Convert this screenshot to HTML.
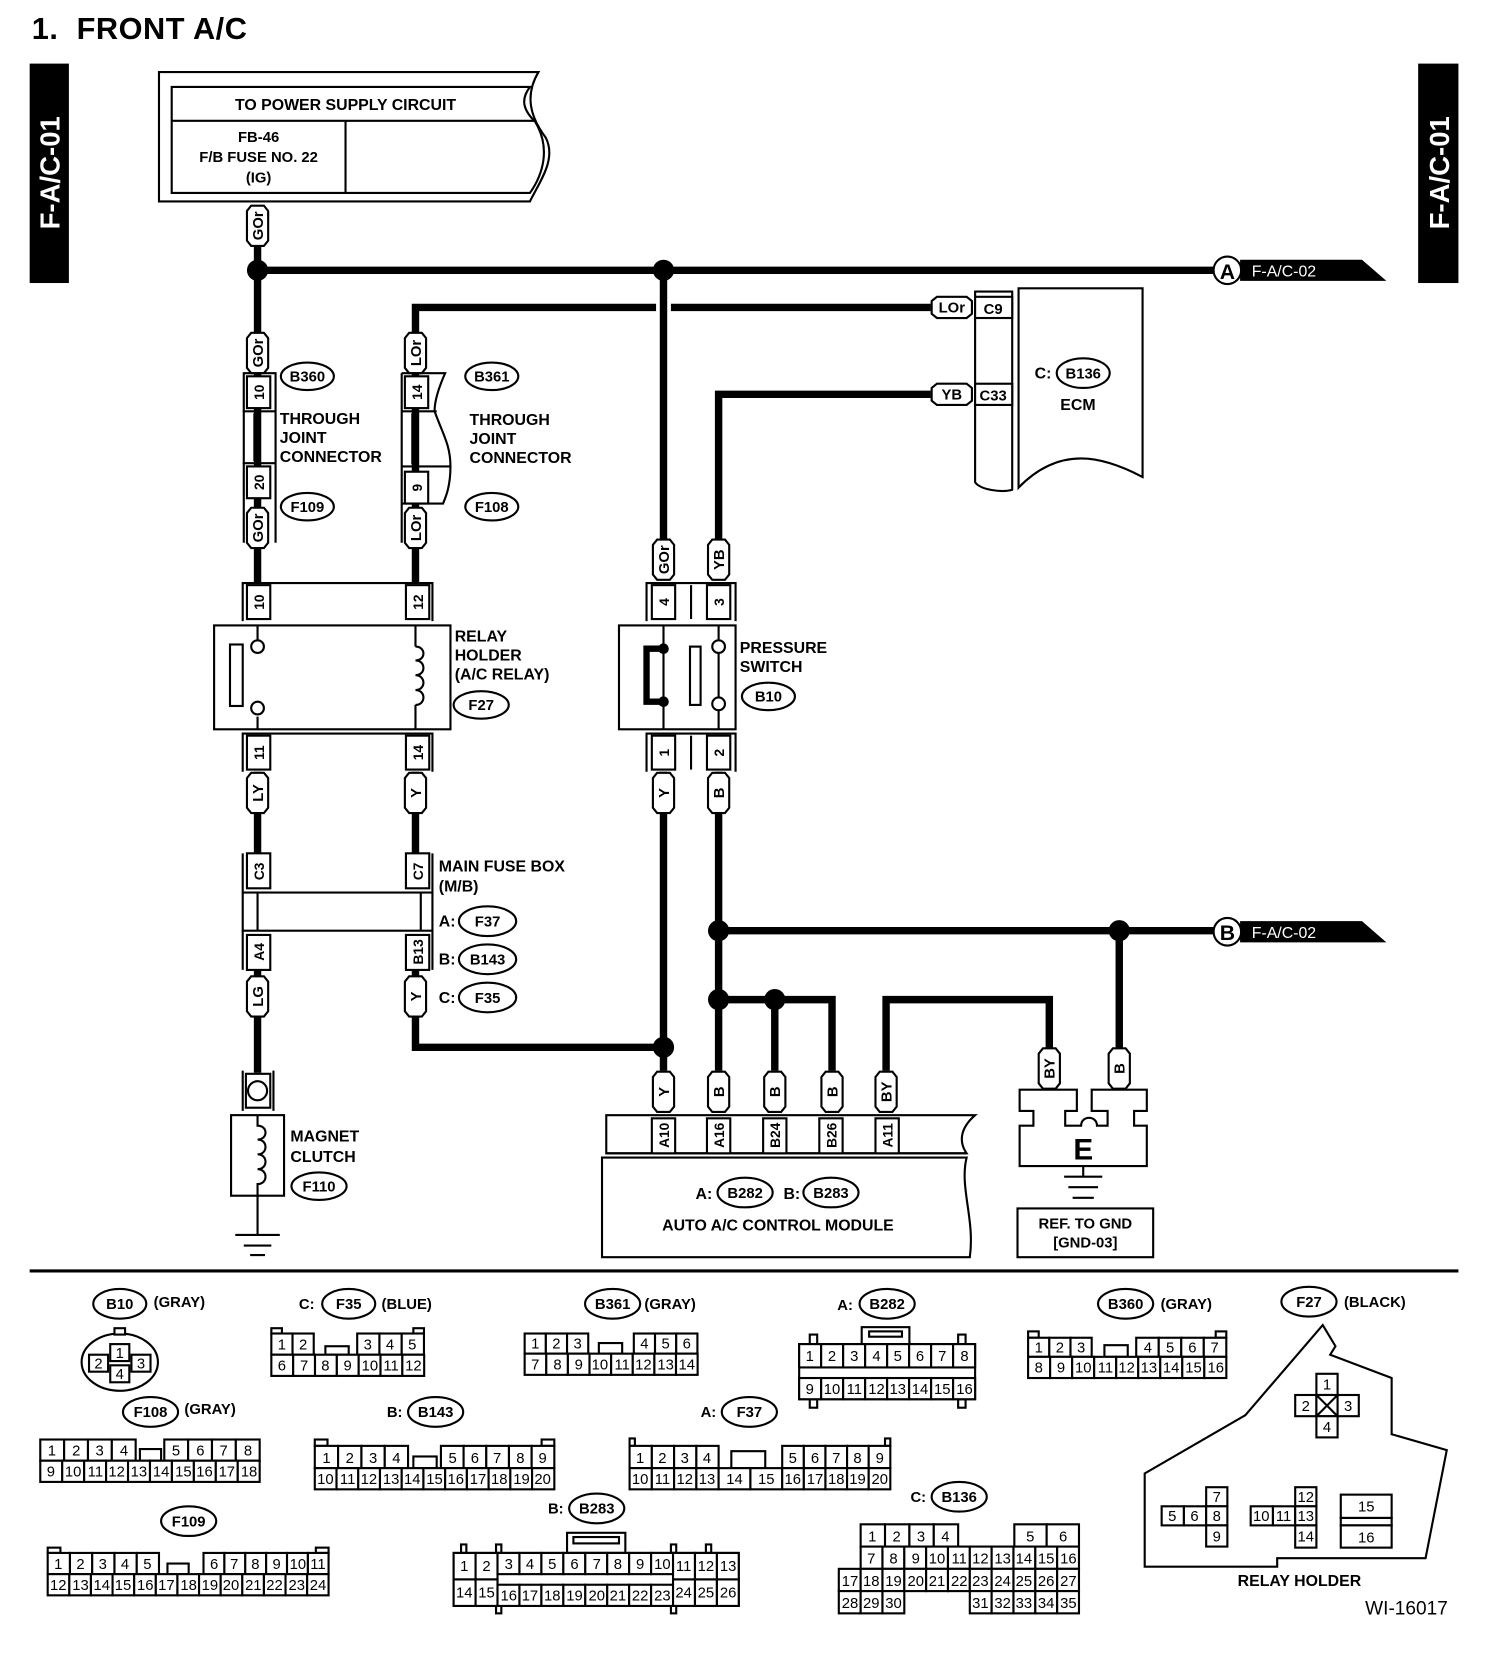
<!DOCTYPE html>
<html><head><meta charset="utf-8"><style>
html,body{margin:0;padding:0;background:#fff}
svg{display:block}
text{font-family:"Liberation Sans",sans-serif;font-weight:bold;fill:#000}
.g rect{fill:#fff;stroke:#000;stroke-width:2}
.g text{font-size:14px;font-weight:normal;text-anchor:middle}
.w{stroke:#000;stroke-width:7;fill:none}
.t{stroke:#000;stroke-width:2;fill:none}
.tw{stroke:#000;stroke-width:2;fill:#fff}
.lb{font-size:15px}
.cap text{font-size:14px;text-anchor:middle}
.ov{fill:#fff;stroke:#000;stroke-width:2}
.ot{font-size:14px;text-anchor:middle}
</style></head><body>
<svg width="1504" height="1660" viewBox="0 0 1419 1566" preserveAspectRatio="none" xmlns="http://www.w3.org/2000/svg">
<defs>
<polygon id="cap" points="-10,-14 -6,-19 6,-19 10,-14 10,14 6,19 -6,19 -10,14" fill="#fff" stroke="#000" stroke-width="2"/>
<polygon id="caph" points="-14,-10 -19,-6 -19,6 -14,10 14,10 19,6 19,-6 14,-10" fill="#fff" stroke="#000" stroke-width="2"/>
</defs>
<text x="30" y="37" style="font-size:29px;letter-spacing:0.5px">1.&#160;&#160;FRONT A/C</text>
<rect x="28" y="60" width="37" height="207" fill="#000"/>
<text transform="translate(56,163) rotate(-90)" text-anchor="middle" style="font-size:26px;fill:#fff">F-A/C-01</text>
<rect x="1338" y="60" width="38" height="207" fill="#000"/>
<text transform="translate(1367,163) rotate(-90)" text-anchor="middle" style="font-size:26px;fill:#fff">F-A/C-01</text>

<!-- power box -->
<path class="t" d="M150,68 H508 C495,90 500,110 515,130 C525,150 510,170 500,190 H150 Z"/>
<path class="t" d="M162,82 H500 C490,95 495,105 505,115 C520,140 512,165 500,182 H162 Z"/>
<line class="t" x1="162" y1="114" x2="504" y2="114"/>
<line class="t" x1="326" y1="114" x2="326" y2="182"/>
<text x="326" y="104" text-anchor="middle" class="lb">TO POWER SUPPLY CIRCUIT</text>
<text x="244" y="134" text-anchor="middle" style="font-size:14px">FB-46</text>
<text x="244" y="153" text-anchor="middle" style="font-size:14px">F/B FUSE NO. 22</text>
<text x="244" y="172" text-anchor="middle" style="font-size:14px">(IG)</text>

<!-- wires -->
<path class="w" d="M243,195 V550"/>
<path class="w" d="M243,255 H1150"/>
<path class="w" d="M626,255 V510"/>
<path class="w" d="M392,315 V290 H619 M633,290 H878"/>
<path class="w" d="M678,510 V372 H878"/>
<path class="w" d="M392,315 V550"/>
<path class="w" d="M243,728 V805 M392,728 V805"/>
<path class="w" d="M243,915 V1012"/>
<path class="w" d="M392,915 V988 H626"/>
<path class="w" d="M626,728 V1010 M678,728 V1010"/>
<path class="w" d="M678,878 H1150 M1056,878 V990"/>
<path class="w" d="M678,943 H785 V1010 M731,943 V1010"/>
<path class="w" d="M836,1010 V943 H990 V990"/>
<g fill="#000"><circle cx="243" cy="255" r="10"/><circle cx="626" cy="255" r="10"/><circle cx="626" cy="988" r="10"/><circle cx="678" cy="878" r="10"/><circle cx="1056" cy="878" r="10"/><circle cx="678" cy="943" r="10"/><circle cx="731" cy="943" r="10"/></g>

<!-- A / B off-page -->
<polygon points="1170,245 1285,245 1308,265 1170,265" fill="#000"/>
<circle cx="1158" cy="255" r="13" class="ov"/><text x="1158" y="263" text-anchor="middle" style="font-size:20px">A</text>
<text x="1181" y="261" style="font-size:15px;fill:#fff;font-weight:normal">F-A/C-02</text>
<polygon points="1170,869 1285,869 1308,889 1170,889" fill="#000"/>
<circle cx="1158" cy="879" r="13" class="ov"/><text x="1158" y="887" text-anchor="middle" style="font-size:20px">B</text>
<text x="1181" y="885" style="font-size:15px;fill:#fff;font-weight:normal">F-A/C-02</text>

<!-- capsules -->
<g class="cap">
<g transform="translate(243,213)"><use href="#cap"/><text transform="rotate(-90)" y="5">GOr</text></g>
<g transform="translate(243,333)"><use href="#cap"/><text transform="rotate(-90)" y="5">GOr</text></g>
<g transform="translate(243,498)"><use href="#cap"/><text transform="rotate(-90)" y="5">GOr</text></g>
<g transform="translate(392,333)"><use href="#cap"/><text transform="rotate(-90)" y="5">LOr</text></g>
<g transform="translate(392,498)"><use href="#cap"/><text transform="rotate(-90)" y="5">LOr</text></g>
<g transform="translate(626,528)"><use href="#cap"/><text transform="rotate(-90)" y="5">GOr</text></g>
<g transform="translate(678,528)"><use href="#cap"/><text transform="rotate(-90)" y="5">YB</text></g>
<g transform="translate(243,748)"><use href="#cap"/><text transform="rotate(-90)" y="5">LY</text></g>
<g transform="translate(392,748)"><use href="#cap"/><text transform="rotate(-90)" y="5">Y</text></g>
<g transform="translate(626,748)"><use href="#cap"/><text transform="rotate(-90)" y="5">Y</text></g>
<g transform="translate(678,748)"><use href="#cap"/><text transform="rotate(-90)" y="5">B</text></g>
<g transform="translate(243,940)"><use href="#cap"/><text transform="rotate(-90)" y="5">LG</text></g>
<g transform="translate(392,940)"><use href="#cap"/><text transform="rotate(-90)" y="5">Y</text></g>
<g transform="translate(626,1030)"><use href="#cap"/><text transform="rotate(-90)" y="5">Y</text></g>
<g transform="translate(678,1030)"><use href="#cap"/><text transform="rotate(-90)" y="5">B</text></g>
<g transform="translate(731,1030)"><use href="#cap"/><text transform="rotate(-90)" y="5">B</text></g>
<g transform="translate(785,1030)"><use href="#cap"/><text transform="rotate(-90)" y="5">B</text></g>
<g transform="translate(836,1030)"><use href="#cap"/><text transform="rotate(-90)" y="5">BY</text></g>
<g transform="translate(990,1008)"><use href="#cap"/><text transform="rotate(-90)" y="5">BY</text></g>
<g transform="translate(1056,1008)"><use href="#cap"/><text transform="rotate(-90)" y="5">B</text></g>
<g transform="translate(898,290)"><use href="#caph"/><text y="5">LOr</text></g>
<g transform="translate(898,372)"><use href="#caph"/><text y="5">YB</text></g>
</g>

<!-- through joint connectors -->
<path class="t" d="M230,352 V512 M229,352 H260 V512"/>
<rect class="tw" x="233" y="355" width="22" height="30"/><text transform="translate(249,370) rotate(-90)" text-anchor="middle" style="font-size:13px">10</text>
<line class="t" x1="229" y1="388" x2="260" y2="388"/><line class="t" x1="229" y1="437" x2="260" y2="437"/>
<line class="t" x1="240" y1="390" x2="240" y2="435"/>
<rect class="tw" x="233" y="440" width="22" height="30"/><text transform="translate(249,455) rotate(-90)" text-anchor="middle" style="font-size:13px">20</text>
<path class="t" d="M379,352 V512 M379,352 H420 C412,370 410,380 410,388 C418,410 425,420 425,440 C425,460 420,470 418,475 H379"/>
<rect class="tw" x="382" y="355" width="22" height="30"/><text transform="translate(398,370) rotate(-90)" text-anchor="middle" style="font-size:13px">14</text>
<line class="t" x1="379" y1="388" x2="412" y2="388"/><line class="t" x1="379" y1="440" x2="425" y2="440"/>
<line class="t" x1="389" y1="390" x2="389" y2="438"/>
<rect class="tw" x="382" y="445" width="22" height="30"/><text transform="translate(398,460) rotate(-90)" text-anchor="middle" style="font-size:13px">9</text>
<ellipse class="ov" cx="290" cy="355" rx="25" ry="13"/><text class="ot" x="290" y="360">B360</text>
<ellipse class="ov" cx="290" cy="478" rx="25" ry="13"/><text class="ot" x="290" y="483">F109</text>
<ellipse class="ov" cx="464" cy="355" rx="25" ry="13"/><text class="ot" x="464" y="360">B361</text>
<ellipse class="ov" cx="464" cy="478" rx="25" ry="13"/><text class="ot" x="464" y="483">F108</text>
<text x="264" y="400" style="font-size:15px">THROUGH</text><text x="264" y="418" style="font-size:15px">JOINT</text><text x="264" y="436" style="font-size:15px">CONNECTOR</text>
<text x="443" y="401" style="font-size:15px">THROUGH</text><text x="443" y="419" style="font-size:15px">JOINT</text><text x="443" y="437" style="font-size:15px">CONNECTOR</text>

<!-- ECM -->
<path class="t" d="M920,275 V455 C925,462 945,465 955,462 V275 Z"/>
<rect class="tw" x="920" y="280" width="35" height="20"/><text x="937" y="296" text-anchor="middle" style="font-size:14px">C9</text>
<rect class="tw" x="920" y="362" width="35" height="20"/><text x="937" y="378" text-anchor="middle" style="font-size:14px">C33</text>
<path class="t" d="M961,272 H1078 V450 C1040,430 1000,420 961,460 Z"/>
<text x="992" y="357" text-anchor="end" style="font-size:15px">C:</text>
<ellipse class="ov" cx="1022" cy="352" rx="25" ry="14"/><text class="ot" x="1022" y="357">B136</text>
<text x="1017" y="387" text-anchor="middle" style="font-size:15px">ECM</text>

<!-- relay holder -->
<path class="t" d="M229,586 V550 H408 V586"/>
<rect class="tw" x="233" y="552" width="22" height="32"/><text transform="translate(249,568) rotate(-90)" text-anchor="middle" style="font-size:13px">10</text>
<rect class="tw" x="383" y="552" width="22" height="32"/><text transform="translate(399,568) rotate(-90)" text-anchor="middle" style="font-size:13px">12</text>
<rect class="tw" x="202" y="590" width="223" height="98"/>
<rect class="t" x="217" y="608" width="12" height="58"/>
<path class="t" d="M243,590 V604 M243,676 V688 M392,590 V610 M392,665 V688"/>
<circle cx="243" cy="610" r="6" class="tw"/><circle cx="243" cy="668" r="6" class="tw"/>
<path class="t" d="M392,610 c10,0 10,13 0,13 c10,0 10,14 0,14 c10,0 10,14 0,14 c10,0 10,14 0,14"/>
<path class="t" d="M229,728 V692 H408 V728"/>
<rect class="tw" x="233" y="694" width="22" height="32"/><text transform="translate(249,710) rotate(-90)" text-anchor="middle" style="font-size:13px">11</text>
<rect class="tw" x="383" y="694" width="22" height="32"/><text transform="translate(399,710) rotate(-90)" text-anchor="middle" style="font-size:13px">14</text>
<text x="429" y="605" style="font-size:15px">RELAY</text><text x="429" y="623" style="font-size:15px">HOLDER</text><text x="429" y="641" style="font-size:15px">(A/C RELAY)</text>
<ellipse class="ov" cx="454" cy="665" rx="26" ry="13"/><text class="ot" x="454" y="670">F27</text>

<!-- main fuse box -->
<path class="t" d="M229,805 V842 M408,805 V842"/>
<rect class="tw" x="233" y="805" width="22" height="33"/><text transform="translate(249,822) rotate(-90)" text-anchor="middle" style="font-size:13px">C3</text>
<rect class="tw" x="383" y="805" width="22" height="33"/><text transform="translate(399,822) rotate(-90)" text-anchor="middle" style="font-size:13px">C7</text>
<rect class="tw" x="229" y="842" width="179" height="36"/>
<path class="t" d="M243,842 V878 M397,842 V878"/>
<path class="t" d="M229,878 V915 M408,878 V915"/>
<rect class="tw" x="233" y="882" width="22" height="33"/><text transform="translate(249,898) rotate(-90)" text-anchor="middle" style="font-size:13px">A4</text>
<rect class="tw" x="383" y="882" width="22" height="33"/><text transform="translate(399,898) rotate(-90)" text-anchor="middle" style="font-size:13px">B13</text>
<text x="414" y="822" style="font-size:15px">MAIN FUSE BOX</text><text x="414" y="841" style="font-size:15px">(M/B)</text>
<text x="414" y="874" style="font-size:15px">A:</text><ellipse class="ov" cx="460" cy="869" rx="27" ry="14"/><text class="ot" x="460" y="874">F37</text>
<text x="414" y="910" style="font-size:15px">B:</text><ellipse class="ov" cx="460" cy="905" rx="27" ry="14"/><text class="ot" x="460" y="910">B143</text>
<text x="414" y="946" style="font-size:15px">C:</text><ellipse class="ov" cx="460" cy="941" rx="27" ry="14"/><text class="ot" x="460" y="946">F35</text>

<!-- magnet clutch -->
<path class="t" d="M229,1048 V1010 M258,1048 V1010"/>
<rect class="tw" x="232" y="1013" width="23" height="32"/><circle cx="243" cy="1029" r="9" class="t"/>
<rect class="tw" x="218" y="1052" width="50" height="76"/>
<path class="t" d="M243,1052 V1062 c10,0 10,13 0,13 c10,0 10,14 0,14 c10,0 10,14 0,14 c10,0 10,14 0,14 V1165"/>
<path class="t" d="M222,1165 H264 M230,1175 H256 M236,1184 H250"/>
<text x="274" y="1077" style="font-size:15px">MAGNET</text><text x="274" y="1096" style="font-size:15px">CLUTCH</text>
<ellipse class="ov" cx="301" cy="1119" rx="26" ry="13"/><text class="ot" x="301" y="1124">F110</text>

<!-- pressure switch -->
<path class="t" d="M610,586 V550 H694 V586"/>
<rect class="tw" x="615" y="552" width="22" height="32"/><text transform="translate(631,568) rotate(-90)" text-anchor="middle" style="font-size:13px">4</text>
<line class="t" x1="652" y1="552" x2="652" y2="584"/>
<rect class="tw" x="667" y="552" width="22" height="32"/><text transform="translate(683,568) rotate(-90)" text-anchor="middle" style="font-size:13px">3</text>
<rect class="tw" x="584" y="590" width="110" height="98"/>
<path class="t" d="M626,590 V688 M678,590 V604 M678,616 V658 M678,670 V688"/>
<path d="M626,612 H610 V662 H626" stroke="#000" stroke-width="6" fill="none"/>
<circle cx="626" cy="612" r="5" fill="#000"/><circle cx="626" cy="662" r="5" fill="#000"/>
<circle cx="678" cy="610" r="6" class="tw"/><circle cx="678" cy="664" r="6" class="tw"/>
<rect class="t" x="651" y="610" width="10" height="55"/>
<path class="t" d="M610,728 V692 H694 V728"/>
<rect class="tw" x="615" y="694" width="22" height="32"/><text transform="translate(631,710) rotate(-90)" text-anchor="middle" style="font-size:13px">1</text>
<line class="t" x1="652" y1="694" x2="652" y2="726"/>
<rect class="tw" x="667" y="694" width="22" height="32"/><text transform="translate(683,710) rotate(-90)" text-anchor="middle" style="font-size:13px">2</text>
<text x="698" y="616" style="font-size:15px">PRESSURE</text><text x="698" y="634" style="font-size:15px">SWITCH</text>
<ellipse class="ov" cx="725" cy="657" rx="25" ry="13"/><text class="ot" x="725" y="662">B10</text>

<!-- auto A/C module -->
<path class="t" d="M572,1088 V1052 H920 C905,1065 905,1078 912,1088 Z"/>
<line class="t" x1="572" y1="1088" x2="912" y2="1088"/>
<g class="g">
<rect x="615" y="1055" width="22" height="33"/><rect x="667" y="1055" width="22" height="33"/><rect x="720" y="1055" width="22" height="33"/><rect x="773" y="1055" width="22" height="33"/><rect x="826" y="1055" width="22" height="33"/>
</g>
<g style="font-size:13px" text-anchor="middle">
<text transform="translate(631,1071) rotate(-90)">A10</text><text transform="translate(683,1071) rotate(-90)">A16</text><text transform="translate(736,1071) rotate(-90)">B24</text><text transform="translate(789,1071) rotate(-90)">B26</text><text transform="translate(842,1071) rotate(-90)">A11</text>
</g>
<path class="t" d="M568,1092 H912 C905,1120 920,1150 915,1186 H568 Z"/>
<text x="672" y="1131" text-anchor="end" style="font-size:15px">A:</text>
<ellipse class="ov" cx="703" cy="1125" rx="26" ry="14"/><text class="ot" x="703" y="1130">B282</text>
<text x="755" y="1131" text-anchor="end" style="font-size:15px">B:</text>
<ellipse class="ov" cx="784" cy="1125" rx="26" ry="14"/><text class="ot" x="784" y="1130">B283</text>
<text x="734" y="1161" text-anchor="middle" style="font-size:15px">AUTO A/C CONTROL MODULE</text>

<!-- ground E -->
<path class="tw" d="M962,1028 H1016 V1048 H1005 V1062 H1020 C1020,1052 1035,1052 1035,1062 H1045 V1048 H1030 V1028 H1082 V1048 H1070 V1062 H1082 V1100 H962 V1062 H975 V1048 H962 Z"/>
<text x="1022" y="1094" text-anchor="middle" style="font-size:28px">E</text>
<path class="t" d="M1022,1100 V1110 M1004,1110 H1040 M1008,1120 H1036 M1012,1130 H1032"/>
<rect class="t" x="960" y="1140" width="128" height="46"/>
<text x="1024" y="1159" text-anchor="middle" style="font-size:14px">REF. TO GND</text>
<text x="1024" y="1177" text-anchor="middle" style="font-size:14px">[GND-03]</text>

<line x1="28" y1="1199" x2="1376" y2="1199" stroke="#000" stroke-width="3"/>

<!-- bottom connector labels -->
<ellipse class="ov" cx="113" cy="1230" rx="25" ry="14"/><text class="ot" x="113" y="1235">B10</text><text x="145" y="1233" style="font-size:14px">(GRAY)</text>
<text x="282" y="1235" style="font-size:14px">C:</text><ellipse class="ov" cx="329" cy="1230" rx="25" ry="14"/><text class="ot" x="329" y="1235">F35</text><text x="360" y="1235" style="font-size:14px">(BLUE)</text>
<ellipse class="ov" cx="578" cy="1230" rx="26" ry="14"/><text class="ot" x="578" y="1235">B361</text><text x="608" y="1235" style="font-size:14px">(GRAY)</text>
<text x="790" y="1236" style="font-size:14px">A:</text><ellipse class="ov" cx="837" cy="1230" rx="26" ry="14"/><text class="ot" x="837" y="1235">B282</text>
<ellipse class="ov" cx="1062" cy="1230" rx="26" ry="14"/><text class="ot" x="1062" y="1235">B360</text><text x="1095" y="1235" style="font-size:14px">(GRAY)</text>
<ellipse class="ov" cx="1235" cy="1228" rx="26" ry="14"/><text class="ot" x="1235" y="1233">F27</text><text x="1268" y="1233" style="font-size:14px">(BLACK)</text>
<ellipse class="ov" cx="142" cy="1332" rx="26" ry="14"/><text class="ot" x="142" y="1337">F108</text><text x="174" y="1334" style="font-size:14px">(GRAY)</text>
<text x="365" y="1337" style="font-size:14px">B:</text><ellipse class="ov" cx="411" cy="1332" rx="26" ry="14"/><text class="ot" x="411" y="1337">B143</text>
<text x="661" y="1337" style="font-size:14px">A:</text><ellipse class="ov" cx="707" cy="1332" rx="26" ry="14"/><text class="ot" x="707" y="1337">F37</text>
<ellipse class="ov" cx="178" cy="1435" rx="26" ry="14"/><text class="ot" x="178" y="1440">F109</text>
<text x="517" y="1428" style="font-size:14px">B:</text><ellipse class="ov" cx="563" cy="1423" rx="26" ry="14"/><text class="ot" x="563" y="1428">B283</text>
<text x="859" y="1417" style="font-size:14px">C:</text><ellipse class="ov" cx="905" cy="1412" rx="26" ry="14"/><text class="ot" x="905" y="1417">B136</text>

<!-- B10 -->
<ellipse class="t" cx="113" cy="1285" rx="36" ry="27"/>
<g class="g">
<rect x="108" y="1253" width="10" height="6"/>
<rect x="104" y="1268" width="18" height="16"/><text x="113" y="1281">1</text>
<rect x="84" y="1278" width="18" height="16"/><text x="93" y="1291">2</text>
<rect x="124" y="1278" width="18" height="16"/><text x="133" y="1291">3</text>
<rect x="104" y="1288" width="18" height="16"/><text x="113" y="1301">4</text>
</g>

<g class="g">
<!-- F35 -->
<rect x="256" y="1253" width="10" height="5"/><rect x="390" y="1253" width="10" height="5"/>
<rect x="256" y="1258" width="20" height="20"/><text x="266" y="1273">1</text>
<rect x="276" y="1258" width="20" height="20"/><text x="286" y="1273">2</text>
<rect x="307" y="1270" width="22" height="8"/>
<rect x="337" y="1258" width="21" height="20"/><text x="347" y="1273">3</text>
<rect x="358" y="1258" width="21" height="20"/><text x="368" y="1273">4</text>
<rect x="379" y="1258" width="21" height="20"/><text x="389" y="1273">5</text>
<rect x="256" y="1278" width="20.6" height="20"/><text x="266" y="1293">6</text>
<rect x="276.6" y="1278" width="20.6" height="20"/><text x="287" y="1293">7</text>
<rect x="297.2" y="1278" width="20.6" height="20"/><text x="307" y="1293">8</text>
<rect x="317.8" y="1278" width="20.6" height="20"/><text x="328" y="1293">9</text>
<rect x="338.4" y="1278" width="20.6" height="20"/><text x="349" y="1293">10</text>
<rect x="359" y="1278" width="20.6" height="20"/><text x="369" y="1293">11</text>
<rect x="379.6" y="1278" width="20.6" height="20"/><text x="390" y="1293">12</text>
<!-- B361 -->
<rect x="495" y="1258" width="20" height="19"/><text x="505" y="1272">1</text>
<rect x="515" y="1258" width="20" height="19"/><text x="525" y="1272">2</text>
<rect x="535" y="1258" width="20" height="19"/><text x="545" y="1272">3</text>
<rect x="565" y="1267" width="22" height="10"/>
<rect x="598" y="1258" width="20" height="19"/><text x="608" y="1272">4</text>
<rect x="618" y="1258" width="20" height="19"/><text x="628" y="1272">5</text>
<rect x="638" y="1258" width="20" height="19"/><text x="648" y="1272">6</text>
<rect x="495" y="1277" width="20.4" height="20"/><text x="505" y="1292">7</text>
<rect x="515.4" y="1277" width="20.4" height="20"/><text x="526" y="1292">8</text>
<rect x="535.8" y="1277" width="20.4" height="20"/><text x="546" y="1292">9</text>
<rect x="556.2" y="1277" width="20.4" height="20"/><text x="566" y="1292">10</text>
<rect x="576.6" y="1277" width="20.4" height="20"/><text x="587" y="1292">11</text>
<rect x="597" y="1277" width="20.4" height="20"/><text x="607" y="1292">12</text>
<rect x="617.4" y="1277" width="20.4" height="20"/><text x="628" y="1292">13</text>
<rect x="637.8" y="1277" width="20.4" height="20"/><text x="648" y="1292">14</text>
<!-- B282 -->
<rect x="813" y="1252" width="45" height="16"/><rect x="820" y="1256" width="31" height="5"/>
<rect x="764" y="1259" width="7" height="9"/><rect x="904" y="1259" width="7" height="9"/>
<rect x="764" y="1320" width="7" height="8"/><rect x="904" y="1320" width="7" height="8"/>
<rect x="754" y="1268" width="166" height="52"/>
<rect x="754" y="1268" width="20.75" height="22"/><text x="764" y="1284">1</text>
<rect x="774.75" y="1268" width="20.75" height="22"/><text x="785" y="1284">2</text>
<rect x="795.5" y="1268" width="20.75" height="22"/><text x="806" y="1284">3</text>
<rect x="816.25" y="1268" width="20.75" height="22"/><text x="827" y="1284">4</text>
<rect x="837" y="1268" width="20.75" height="22"/><text x="847" y="1284">5</text>
<rect x="857.75" y="1268" width="20.75" height="22"/><text x="868" y="1284">6</text>
<rect x="878.5" y="1268" width="20.75" height="22"/><text x="889" y="1284">7</text>
<rect x="899.25" y="1268" width="20.75" height="22"/><text x="910" y="1284">8</text>
<rect x="754" y="1300" width="20.75" height="20"/><text x="764" y="1315">9</text>
<rect x="774.75" y="1300" width="20.75" height="20"/><text x="785" y="1315">10</text>
<rect x="795.5" y="1300" width="20.75" height="20"/><text x="806" y="1315">11</text>
<rect x="816.25" y="1300" width="20.75" height="20"/><text x="827" y="1315">12</text>
<rect x="837" y="1300" width="20.75" height="20"/><text x="847" y="1315">13</text>
<rect x="857.75" y="1300" width="20.75" height="20"/><text x="868" y="1315">14</text>
<rect x="878.5" y="1300" width="20.75" height="20"/><text x="889" y="1315">15</text>
<rect x="899.25" y="1300" width="20.75" height="20"/><text x="910" y="1315">16</text>
<!-- B360 -->
<rect x="970" y="1256" width="10" height="6"/><rect x="1147" y="1256" width="10" height="6"/>
<rect x="970" y="1262" width="20" height="18"/><text x="980" y="1276">1</text>
<rect x="990" y="1262" width="20" height="18"/><text x="1000" y="1276">2</text>
<rect x="1010" y="1262" width="20" height="18"/><text x="1020" y="1276">3</text>
<rect x="1042" y="1269" width="22" height="11"/>
<rect x="1072" y="1262" width="21.25" height="18"/><text x="1083" y="1276">4</text>
<rect x="1093.25" y="1262" width="21.25" height="18"/><text x="1104" y="1276">5</text>
<rect x="1114.5" y="1262" width="21.25" height="18"/><text x="1125" y="1276">6</text>
<rect x="1135.75" y="1262" width="21.25" height="18"/><text x="1146" y="1276">7</text>
<rect x="970" y="1280" width="20.78" height="20"/><text x="980" y="1295">8</text>
<rect x="990.78" y="1280" width="20.78" height="20"/><text x="1001" y="1295">9</text>
<rect x="1011.56" y="1280" width="20.78" height="20"/><text x="1022" y="1295">10</text>
<rect x="1032.34" y="1280" width="20.78" height="20"/><text x="1043" y="1295">11</text>
<rect x="1053.12" y="1280" width="20.78" height="20"/><text x="1063" y="1295">12</text>
<rect x="1073.9" y="1280" width="20.78" height="20"/><text x="1084" y="1295">13</text>
<rect x="1094.68" y="1280" width="20.78" height="20"/><text x="1105" y="1295">14</text>
<rect x="1115.46" y="1280" width="20.78" height="20"/><text x="1126" y="1295">15</text>
<rect x="1136.24" y="1280" width="20.78" height="20"/><text x="1147" y="1295">16</text>
<!-- F108 -->
<rect x="38" y="1358" width="22.5" height="20"/><text x="49" y="1373">1</text>
<rect x="60.5" y="1358" width="22.5" height="20"/><text x="72" y="1373">2</text>
<rect x="83" y="1358" width="22.5" height="20"/><text x="94" y="1373">3</text>
<rect x="105.5" y="1358" width="22.5" height="20"/><text x="117" y="1373">4</text>
<rect x="132" y="1367" width="20" height="11"/>
<rect x="155" y="1358" width="22.5" height="20"/><text x="166" y="1373">5</text>
<rect x="177.5" y="1358" width="22.5" height="20"/><text x="189" y="1373">6</text>
<rect x="200" y="1358" width="22.5" height="20"/><text x="211" y="1373">7</text>
<rect x="222.5" y="1358" width="22.5" height="20"/><text x="234" y="1373">8</text>
<rect x="38" y="1378" width="20.7" height="20"/><text x="48" y="1393">9</text>
<rect x="58.7" y="1378" width="20.7" height="20"/><text x="69" y="1393">10</text>
<rect x="79.4" y="1378" width="20.7" height="20"/><text x="90" y="1393">11</text>
<rect x="100.1" y="1378" width="20.7" height="20"/><text x="110" y="1393">12</text>
<rect x="120.8" y="1378" width="20.7" height="20"/><text x="131" y="1393">13</text>
<rect x="141.5" y="1378" width="20.7" height="20"/><text x="152" y="1393">14</text>
<rect x="162.2" y="1378" width="20.7" height="20"/><text x="173" y="1393">15</text>
<rect x="182.9" y="1378" width="20.7" height="20"/><text x="193" y="1393">16</text>
<rect x="203.6" y="1378" width="20.7" height="20"/><text x="214" y="1393">17</text>
<rect x="224.3" y="1378" width="20.7" height="20"/><text x="235" y="1393">18</text>
<!-- B143 -->
<rect x="297" y="1358" width="12" height="6"/><rect x="511" y="1358" width="12" height="6"/>
<rect x="297" y="1364" width="22" height="21"/><text x="308" y="1380">1</text>
<rect x="319" y="1364" width="22" height="21"/><text x="330" y="1380">2</text>
<rect x="341" y="1364" width="22" height="21"/><text x="352" y="1380">3</text>
<rect x="363" y="1364" width="22" height="21"/><text x="374" y="1380">4</text>
<rect x="390" y="1374" width="22" height="11"/>
<rect x="416" y="1364" width="21.4" height="21"/><text x="427" y="1380">5</text>
<rect x="437.4" y="1364" width="21.4" height="21"/><text x="448" y="1380">6</text>
<rect x="458.8" y="1364" width="21.4" height="21"/><text x="469" y="1380">7</text>
<rect x="480.2" y="1364" width="21.4" height="21"/><text x="491" y="1380">8</text>
<rect x="501.6" y="1364" width="21.4" height="21"/><text x="512" y="1380">9</text>
<rect x="297" y="1385" width="20.5" height="20"/><text x="307" y="1400">10</text>
<rect x="317.5" y="1385" width="20.5" height="20"/><text x="328" y="1400">11</text>
<rect x="338" y="1385" width="20.5" height="20"/><text x="348" y="1400">12</text>
<rect x="358.5" y="1385" width="20.5" height="20"/><text x="369" y="1400">13</text>
<rect x="379" y="1385" width="20.5" height="20"/><text x="389" y="1400">14</text>
<rect x="399.5" y="1385" width="20.5" height="20"/><text x="410" y="1400">15</text>
<rect x="420" y="1385" width="20.5" height="20"/><text x="430" y="1400">16</text>
<rect x="440.5" y="1385" width="20.5" height="20"/><text x="451" y="1400">17</text>
<rect x="461" y="1385" width="20.5" height="20"/><text x="471" y="1400">18</text>
<rect x="481.5" y="1385" width="20.5" height="20"/><text x="492" y="1400">19</text>
<rect x="502" y="1385" width="21" height="20"/><text x="512" y="1400">20</text>
<!-- F37 -->
<rect x="594" y="1357" width="5" height="7"/><rect x="835" y="1357" width="5" height="7"/>
<rect x="594" y="1364" width="21" height="21"/><text x="604" y="1380">1</text>
<rect x="615" y="1364" width="21" height="21"/><text x="625" y="1380">2</text>
<rect x="636" y="1364" width="21" height="21"/><text x="646" y="1380">3</text>
<rect x="657" y="1364" width="21" height="21"/><text x="667" y="1380">4</text>
<rect x="690" y="1369" width="32" height="16"/>
<rect x="738" y="1364" width="20.4" height="21"/><text x="748" y="1380">5</text>
<rect x="758.4" y="1364" width="20.4" height="21"/><text x="769" y="1380">6</text>
<rect x="778.8" y="1364" width="20.4" height="21"/><text x="789" y="1380">7</text>
<rect x="799.2" y="1364" width="20.4" height="21"/><text x="809" y="1380">8</text>
<rect x="819.6" y="1364" width="20.4" height="21"/><text x="830" y="1380">9</text>
<rect x="594" y="1385" width="21" height="20"/><text x="604" y="1400">10</text>
<rect x="615" y="1385" width="21" height="20"/><text x="625" y="1400">11</text>
<rect x="636" y="1385" width="21" height="20"/><text x="646" y="1400">12</text>
<rect x="657" y="1385" width="21" height="20"/><text x="667" y="1400">13</text>
<rect x="678" y="1385" width="30" height="20"/><text x="693" y="1400">14</text>
<rect x="708" y="1385" width="30" height="20"/><text x="723" y="1400">15</text>
<rect x="738" y="1385" width="20.4" height="20"/><text x="748" y="1400">16</text>
<rect x="758.4" y="1385" width="20.4" height="20"/><text x="769" y="1400">17</text>
<rect x="778.8" y="1385" width="20.4" height="20"/><text x="789" y="1400">18</text>
<rect x="799.2" y="1385" width="20.4" height="20"/><text x="809" y="1400">19</text>
<rect x="819.6" y="1385" width="20.4" height="20"/><text x="830" y="1400">20</text>
<!-- F109 -->
<rect x="45" y="1460" width="12" height="5"/><rect x="298" y="1460" width="12" height="5"/>
<rect x="45" y="1465" width="21" height="20"/><text x="55" y="1480">1</text>
<rect x="66" y="1465" width="21" height="20"/><text x="76" y="1480">2</text>
<rect x="87" y="1465" width="21" height="20"/><text x="97" y="1480">3</text>
<rect x="108" y="1465" width="21" height="20"/><text x="118" y="1480">4</text>
<rect x="129" y="1465" width="21" height="20"/><text x="139" y="1480">5</text>
<rect x="158" y="1475" width="20" height="10"/>
<rect x="192" y="1465" width="19.7" height="20"/><text x="202" y="1480">6</text>
<rect x="211.7" y="1465" width="19.7" height="20"/><text x="221" y="1480">7</text>
<rect x="231.4" y="1465" width="19.7" height="20"/><text x="241" y="1480">8</text>
<rect x="251.1" y="1465" width="19.7" height="20"/><text x="261" y="1480">9</text>
<rect x="270.8" y="1465" width="19.7" height="20"/><text x="281" y="1480">10</text>
<rect x="290.5" y="1465" width="19.5" height="20"/><text x="300" y="1480">11</text>
<rect x="45" y="1485" width="20.4" height="20"/><text x="55" y="1500">12</text>
<rect x="65.4" y="1485" width="20.4" height="20"/><text x="76" y="1500">13</text>
<rect x="85.8" y="1485" width="20.4" height="20"/><text x="96" y="1500">14</text>
<rect x="106.2" y="1485" width="20.4" height="20"/><text x="116" y="1500">15</text>
<rect x="126.6" y="1485" width="20.4" height="20"/><text x="137" y="1500">16</text>
<rect x="147" y="1485" width="20.4" height="20"/><text x="157" y="1500">17</text>
<rect x="167.4" y="1485" width="20.4" height="20"/><text x="178" y="1500">18</text>
<rect x="187.8" y="1485" width="20.4" height="20"/><text x="198" y="1500">19</text>
<rect x="208.2" y="1485" width="20.4" height="20"/><text x="218" y="1500">20</text>
<rect x="228.6" y="1485" width="20.4" height="20"/><text x="239" y="1500">21</text>
<rect x="249" y="1485" width="20.4" height="20"/><text x="259" y="1500">22</text>
<rect x="269.4" y="1485" width="20.4" height="20"/><text x="280" y="1500">23</text>
<rect x="289.8" y="1485" width="20.2" height="20"/><text x="300" y="1500">24</text>
<!-- B283 -->
<rect x="535" y="1446" width="55" height="19"/><rect x="541" y="1450" width="43" height="6"/>
<rect x="435" y="1457" width="5" height="8"/><rect x="468" y="1457" width="5" height="8"/><rect x="633" y="1457" width="5" height="8"/><rect x="666" y="1457" width="5" height="8"/>
<rect x="468" y="1515" width="5" height="7"/><rect x="633" y="1515" width="5" height="7"/>
<rect x="428" y="1465" width="269" height="50"/>
<rect x="428" y="1465" width="20.7" height="25"/><text x="438" y="1482">1</text>
<rect x="448.7" y="1465" width="20.7" height="25"/><text x="459" y="1482">2</text>
<rect x="469.4" y="1465" width="20.7" height="20"/><text x="480" y="1480">3</text>
<rect x="490.1" y="1465" width="20.7" height="20"/><text x="500" y="1480">4</text>
<rect x="510.8" y="1465" width="20.7" height="20"/><text x="521" y="1480">5</text>
<rect x="531.5" y="1465" width="20.7" height="20"/><text x="542" y="1480">6</text>
<rect x="552.2" y="1465" width="20.7" height="20"/><text x="563" y="1480">7</text>
<rect x="572.9" y="1465" width="20.7" height="20"/><text x="583" y="1480">8</text>
<rect x="593.6" y="1465" width="20.7" height="20"/><text x="604" y="1480">9</text>
<rect x="614.3" y="1465" width="20.7" height="20"/><text x="625" y="1480">10</text>
<rect x="635" y="1465" width="20.7" height="25"/><text x="645" y="1482">11</text>
<rect x="655.7" y="1465" width="20.7" height="25"/><text x="666" y="1482">12</text>
<rect x="676.4" y="1465" width="20.6" height="25"/><text x="687" y="1482">13</text>
<rect x="428" y="1490" width="20.7" height="25"/><text x="438" y="1507">14</text>
<rect x="448.7" y="1490" width="20.7" height="25"/><text x="459" y="1507">15</text>
<rect x="469.4" y="1495" width="20.7" height="20"/><text x="480" y="1510">16</text>
<rect x="490.1" y="1495" width="20.7" height="20"/><text x="500" y="1510">17</text>
<rect x="510.8" y="1495" width="20.7" height="20"/><text x="521" y="1510">18</text>
<rect x="531.5" y="1495" width="20.7" height="20"/><text x="542" y="1510">19</text>
<rect x="552.2" y="1495" width="20.7" height="20"/><text x="563" y="1510">20</text>
<rect x="572.9" y="1495" width="20.7" height="20"/><text x="583" y="1510">21</text>
<rect x="593.6" y="1495" width="20.7" height="20"/><text x="604" y="1510">22</text>
<rect x="614.3" y="1495" width="20.7" height="20"/><text x="625" y="1510">23</text>
<rect x="635" y="1490" width="20.7" height="25"/><text x="645" y="1507">24</text>
<rect x="655.7" y="1490" width="20.7" height="25"/><text x="666" y="1507">25</text>
<rect x="676.4" y="1490" width="20.6" height="25"/><text x="687" y="1507">26</text>
<!-- B136 -->
<rect x="812" y="1438" width="23" height="21"/><text x="823" y="1454">1</text>
<rect x="835" y="1438" width="23" height="21"/><text x="846" y="1454">2</text>
<rect x="858" y="1438" width="23" height="21"/><text x="869" y="1454">3</text>
<rect x="881" y="1438" width="23" height="21"/><text x="892" y="1454">4</text>
<rect x="957" y="1438" width="30.5" height="21"/><text x="972" y="1454">5</text>
<rect x="987.5" y="1438" width="30.5" height="21"/><text x="1003" y="1454">6</text>
<rect x="812" y="1459" width="20.6" height="21"/><text x="822" y="1475">7</text>
<rect x="832.6" y="1459" width="20.6" height="21"/><text x="843" y="1475">8</text>
<rect x="853.2" y="1459" width="20.6" height="21"/><text x="864" y="1475">9</text>
<rect x="873.8" y="1459" width="20.6" height="21"/><text x="884" y="1475">10</text>
<rect x="894.4" y="1459" width="20.6" height="21"/><text x="905" y="1475">11</text>
<rect x="915" y="1459" width="20.6" height="21"/><text x="925" y="1475">12</text>
<rect x="935.6" y="1459" width="20.6" height="21"/><text x="946" y="1475">13</text>
<rect x="956.2" y="1459" width="20.6" height="21"/><text x="966" y="1475">14</text>
<rect x="976.8" y="1459" width="20.6" height="21"/><text x="987" y="1475">15</text>
<rect x="997.4" y="1459" width="20.6" height="21"/><text x="1008" y="1475">16</text>
<rect x="791.4" y="1480" width="20.6" height="21"/><text x="802" y="1496">17</text>
<rect x="812" y="1480" width="20.6" height="21"/><text x="822" y="1496">18</text>
<rect x="832.6" y="1480" width="20.6" height="21"/><text x="843" y="1496">19</text>
<rect x="853.2" y="1480" width="20.6" height="21"/><text x="864" y="1496">20</text>
<rect x="873.8" y="1480" width="20.6" height="21"/><text x="884" y="1496">21</text>
<rect x="894.4" y="1480" width="20.6" height="21"/><text x="905" y="1496">22</text>
<rect x="915" y="1480" width="20.6" height="21"/><text x="925" y="1496">23</text>
<rect x="935.6" y="1480" width="20.6" height="21"/><text x="946" y="1496">24</text>
<rect x="956.2" y="1480" width="20.6" height="21"/><text x="966" y="1496">25</text>
<rect x="976.8" y="1480" width="20.6" height="21"/><text x="987" y="1496">26</text>
<rect x="997.4" y="1480" width="20.6" height="21"/><text x="1008" y="1496">27</text>
<rect x="791.4" y="1501" width="20.6" height="21"/><text x="802" y="1517">28</text>
<rect x="812" y="1501" width="20.6" height="21"/><text x="822" y="1517">29</text>
<rect x="832.6" y="1501" width="20.6" height="21"/><text x="843" y="1517">30</text>
<rect x="915" y="1501" width="20.6" height="21"/><text x="925" y="1517">31</text>
<rect x="935.6" y="1501" width="20.6" height="21"/><text x="946" y="1517">32</text>
<rect x="956.2" y="1501" width="20.6" height="21"/><text x="966" y="1517">33</text>
<rect x="976.8" y="1501" width="20.6" height="21"/><text x="987" y="1517">34</text>
<rect x="997.4" y="1501" width="20.6" height="21"/><text x="1008" y="1517">35</text>
</g>

<!-- F27 relay holder -->
<path class="t" d="M1248,1250 L1260,1270 L1255,1278 L1313,1300 L1313,1353 L1365,1368 L1345,1470 L1205,1470 L1205,1478 L1080,1478 L1080,1390 L1175,1335 Z"/>
<g class="g">
<rect x="1242" y="1296" width="20" height="20"/><text x="1252" y="1311">1</text>
<rect x="1222" y="1316" width="20" height="20"/><text x="1232" y="1331">2</text>
<rect x="1242" y="1316" width="20" height="20"/>
<rect x="1262" y="1316" width="20" height="20"/><text x="1272" y="1331">3</text>
<rect x="1242" y="1336" width="20" height="20"/><text x="1252" y="1351">4</text>
<rect x="1138" y="1403" width="20" height="18"/><text x="1148" y="1417">7</text>
<rect x="1096" y="1421" width="21" height="18"/><text x="1106" y="1435">5</text>
<rect x="1117" y="1421" width="21" height="18"/><text x="1127" y="1435">6</text>
<rect x="1138" y="1421" width="20" height="18"/><text x="1148" y="1435">8</text>
<rect x="1138" y="1439" width="20" height="20"/><text x="1148" y="1454">9</text>
<rect x="1222" y="1403" width="20" height="18"/><text x="1232" y="1417">12</text>
<rect x="1180" y="1421" width="21" height="18"/><text x="1190" y="1435">10</text>
<rect x="1201" y="1421" width="21" height="18"/><text x="1211" y="1435">11</text>
<rect x="1222" y="1421" width="20" height="18"/><text x="1232" y="1435">13</text>
<rect x="1222" y="1439" width="20" height="21"/><text x="1232" y="1454">14</text>
<rect x="1265" y="1410" width="48" height="22"/><text x="1289" y="1426">15</text>
<rect x="1265" y="1432" width="48" height="7"/>
<rect x="1265" y="1439" width="48" height="21"/><text x="1289" y="1455">16</text>
</g>
<path class="t" d="M1242,1316 L1262,1336 M1262,1316 L1242,1336"/>
<text x="1226" y="1496" text-anchor="middle" style="font-size:15px">RELAY HOLDER</text>
<text x="1366" y="1523" text-anchor="end" style="font-size:18px;font-weight:normal">WI-16017</text>
</svg>
</body></html>
